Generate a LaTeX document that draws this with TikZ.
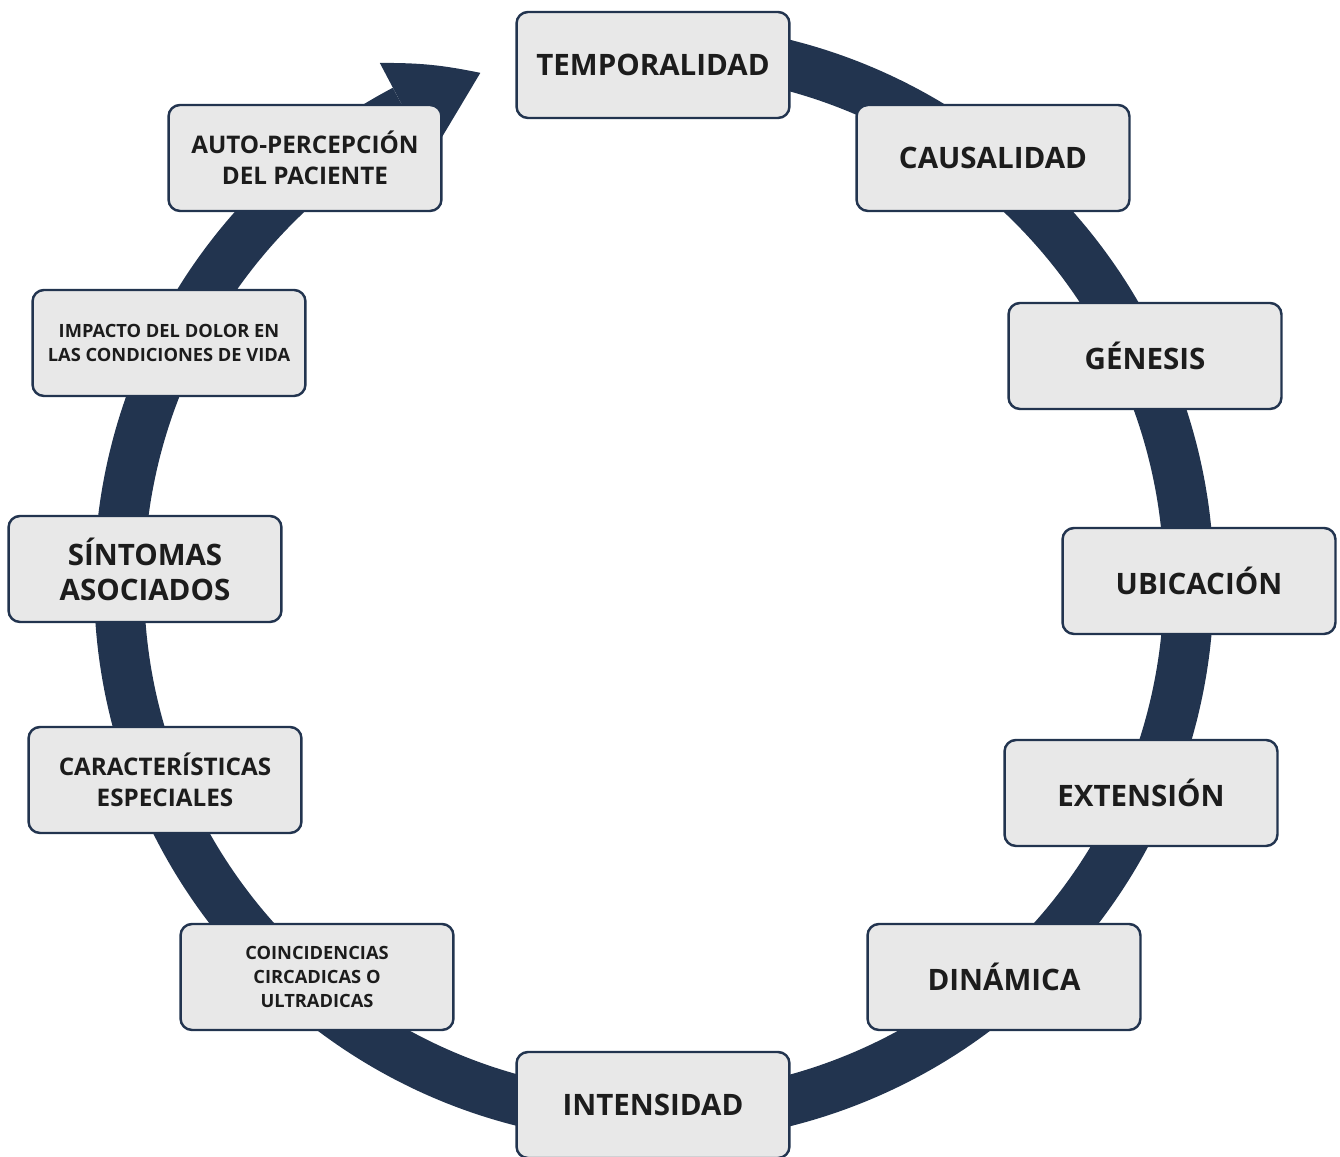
\documentclass[tikz,border=0pt]{standalone}
\usepackage{fontspec}
\setmainfont{Open Sans}
\usetikzlibrary{calc}
\definecolor{ringblue}{HTML}{22344F}
\definecolor{boxgray}{HTML}{E8E8E8}
\definecolor{txtdark}{HTML}{1C1C1C}
\begin{document}
\begin{tikzpicture}[line cap=butt, line join=round, font=\bfseries, x=0.02cm, y=0.02cm]
			\tikzset{stage/.style={draw=ringblue, fill=boxgray, line width=1.4pt, rounded corners=6.5pt,
					minimum width=5.46cm, minimum height=2.12cm, align=center, text=txtdark},
				big/.style={stage, font=\fontsize{16.8}{20}\selectfont\bfseries},
				mid/.style={stage, font=\fontsize{13.8}{18}\selectfont\bfseries},
				small/.style={stage, font=\fontsize{10.4}{13.6}\selectfont\bfseries}}
			\useasboundingbox (0,0) rectangle (1340,1157);
			\coordinate (c) at (654,574);
			\draw[ringblue, line width=1cm] (c) ++(85:10.7cm) arc[start angle=85, end angle=-242.2, radius=10.7cm];
			\fill[ringblue] ($(c)+(117.8:11.76cm)$) to[bend left=6] ($(c)+(108.8:10.78cm)$) -- ($(c)+(117.8:9.62cm)$) -- cycle;
			\node (tem) at (653,1092)[big]{TEMPORALIDAD};
			\node (cau) at (993,999)[big]{CAUSALIDAD};
			\node (gen) at (1145,801)[big]{GÉNESIS};
			\node (ubi) at (1199,576)[big]{UBICACIÓN};
			\node (ext) at (1141,364)[big]{EXTENSIÓN};
			\node (din) at (1004,180)[big]{DINÁMICA};
			\node (int) at (653,52)[big]{INTENSIDAD};
			\node (coi) at (317,180)[small]{COINCIDENCIAS\\CIRCADICAS O\\ULTRADICAS};
			\node (car) at (165,377)[mid]{CARACTERÍSTICAS\\ESPECIALES};
			\node (sin) at (145,588)[big]{SÍNTOMAS\\ASOCIADOS};
			\node (imp) at (169,814)[small]{IMPACTO DEL DOLOR EN\\LAS CONDICIONES DE VIDA};
			\node (aut) at (305,999)[mid]{AUTO-PERCEPCIÓN\\DEL PACIENTE};
		\end{tikzpicture}
\end{document}
